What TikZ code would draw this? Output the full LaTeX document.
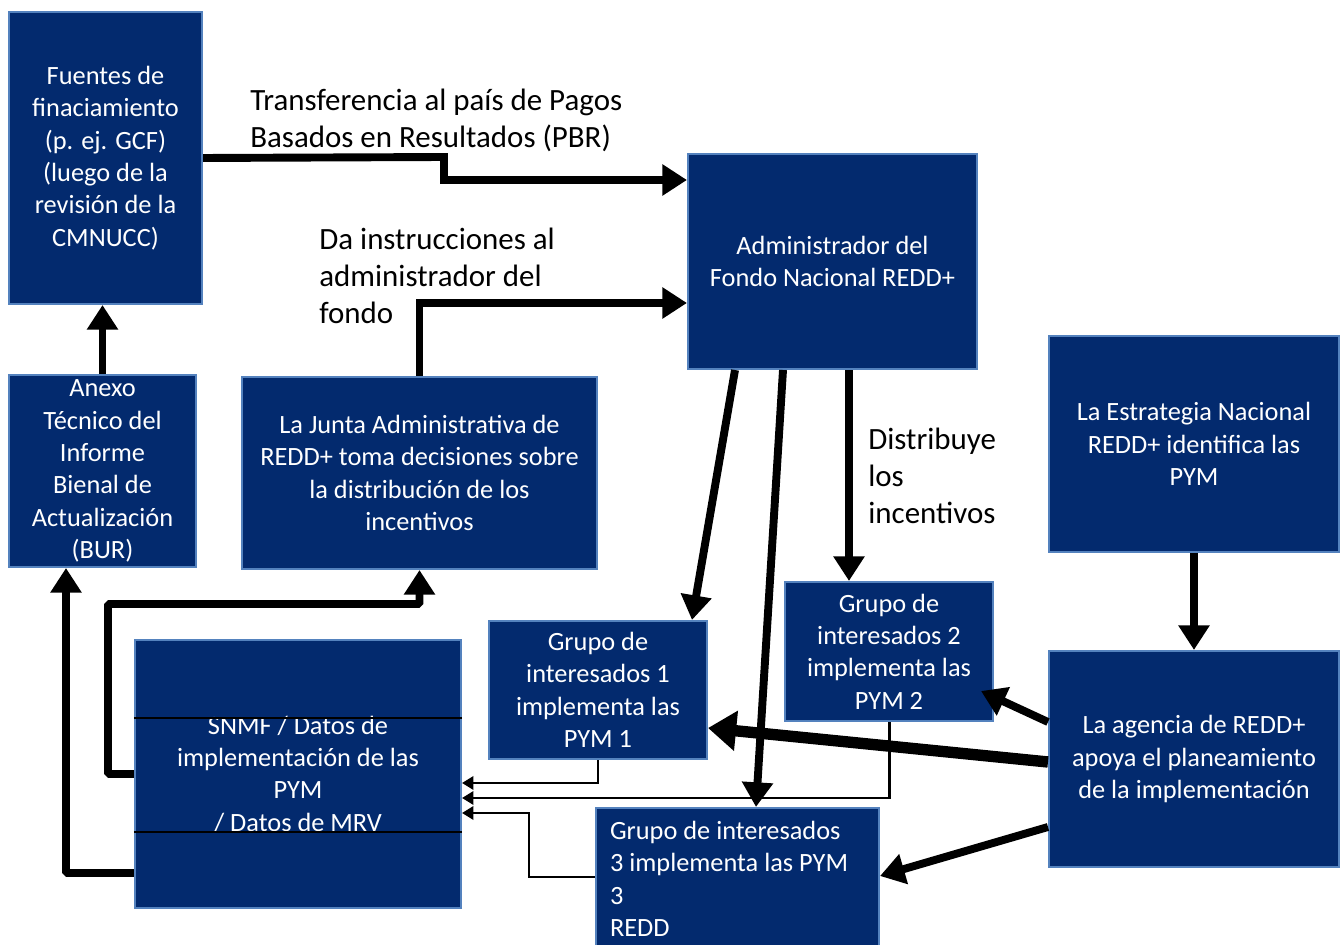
\documentclass[tikz,border=0pt]{standalone}
\usepackage{fontspec}
\setmainfont{Carlito}
\usetikzlibrary{arrows.meta}
\definecolor{boxblue}{RGB}{3,42,110}
\definecolor{boxline}{RGB}{84,130,190}

\begin{document}
\begin{tikzpicture}[x=0.02cm, y=-0.02cm,
    box/.style={draw=boxline, line width=1.2pt, fill=boxblue, text=white, align=center,
        inner sep=0pt, font=\fontsize{15}{18.4}\selectfont},
    lbl/.style={anchor=west, align=left, inner sep=0pt, font=\fontsize{17.6}{21}\selectfont},
    big/.style={line width=4.5pt, -{Triangle[length=14pt,width=17pt]}},
    huge/.style={line width=6.5pt, -{Triangle[length=16pt,width=22pt]}},
    slim/.style={line width=1.7pt, -{Triangle[length=6.5pt,width=7.5pt]}}]
        \useasboundingbox (0,0) rectangle (1340,945);
        \node [box, minimum width=3.86cm, minimum height=5.84cm] (fuentes) at (105.5,158)
            {Fuentes de\\finaciamiento\\(p. ej. GCF)\\(luego de la\\revisión de la\\CMNUCC)};
        \node [box, minimum width=5.78cm, minimum height=4.3cm] (admin) at (832.5,261.5)
            {Administrador del\\Fondo Nacional REDD+};
        \node [box, minimum width=3.74cm, minimum height=3.84cm] (anexo) at (102.5,471)
            {Anexo\\Técnico del\\Informe\\Bienal de\\Actualización\\(BUR)};
        \node [box, minimum width=7.1cm, minimum height=3.84cm] (junta) at (419.5,473)
            {La Junta Administrativa de\\REDD+ toma decisiones sobre\\la distribución de los\\incentivos};
        \node [box, minimum width=5.8cm, minimum height=4.32cm] (estrategia) at (1194,444)
            {La Estrategia Nacional\\REDD+ identifica las\\PYM};
        \node [box, minimum width=4.36cm, minimum height=2.76cm] (grupo1) at (598,690)
            {Grupo de\\interesados 1\\implementa las\\PYM 1};
        \node [box, minimum width=4.16cm, minimum height=2.78cm] (grupo2) at (889,651.5)
            {Grupo de\\interesados 2\\implementa las\\PYM 2};
        \node [box, minimum width=6.52cm, minimum height=5.36cm] (snmf) at (298,774)
            {SNMF / Datos de\\implementación de las\\PYM\\/ Datos de MRV};
        \node [box, minimum width=5.8cm, minimum height=4.32cm] (agencia) at (1194,759)
            {La agencia de REDD+\\apoya el planeamiento\\de la implementación};
        \node [box, align=flush left, inner xsep=0.28cm, text width=5.1cm, minimum height=2.84cm] (grupo3) at (737.5,879)
            {Grupo de interesados\\3 implementa las PYM\\3\\REDD};
        \draw [black, line width=0.6pt] (snmf.west |- 0,718) -- (snmf.east |- 0,718);
        \draw [black, line width=0.6pt] (snmf.west |- 0,832) -- (snmf.east |- 0,832);
        \node [lbl] (pbr) at (250,120) {Transferencia al país de Pagos\\Basados en Resultados (PBR)};
        \node [lbl] (instruye) at (319,276) {Da instrucciones al\\administrador del\\fondo};
        \node [lbl] (distribuye) at (868,476) {Distribuye\\los\\incentivos};
        \draw [big] (fuentes.east) -- (444,157) -- (444,180) -- (admin.west |- 0,180);
        \draw [big] (junta.north) |- (admin.west |- 0,303);
        \draw [big] (anexo.north) -- (anexo.north |- fuentes.south);
        \draw [big] (admin.south -| 735,0) -- (grupo1.north -| 692,0);
        \draw [big] (admin.south -| 783,0) -- (grupo3.north -| 756,0);
        \draw [big] (admin.south -| 849,0) -- (grupo2.north -| 849,0);
        \draw [big] (estrategia) -- (agencia);
        \draw [big] (agencia.west |- 0,722) -- ([shift={(-13,-31)}]grupo2.south east);
        \draw [huge] (agencia.west |- 0,762) -- (grupo1.east |- 0,728);
        \draw [big] (agencia.west |- 0,827) -- (grupo3.east |- 0,876);
        \draw [big, rounded corners=1pt] (snmf.west) -| (108,604) -| (junta.south);
        \draw [big, rounded corners=1pt] (snmf.west |- 0,873) -| (anexo.south -| 66,0);
        \draw [slim] (grupo1.south) |- (snmf.east |- 0,783);
        \draw [slim] (grupo2.south) |- (snmf.east |- 0,798);
        \draw [slim] (grupo3.west |- 0,877) -| (529,813) -- (snmf.east |- 0,813);
    \end{tikzpicture}
\end{document}
